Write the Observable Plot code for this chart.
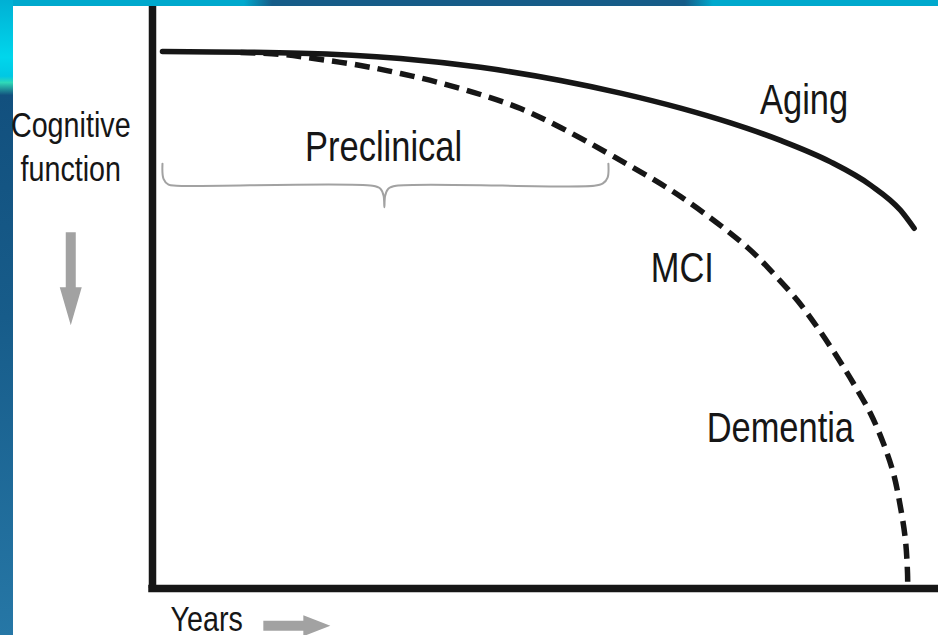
<!DOCTYPE html>
<html>
<head>
<meta charset="utf-8">
<script src="https://cdn.jsdelivr.net/npm/d3@7"></script>
<script src="https://cdn.jsdelivr.net/npm/@observablehq/plot@0.6"></script>
<style>
html, body { margin: 0; padding: 0; }
body { width: 938px; height: 635px; position: relative; overflow: hidden; background: #17598a; }
#topband { position: absolute; left: 0; top: 0; width: 938px; height: 6px;
  background: linear-gradient(to right, #00a9cd 0%, #00a9cd 26%, #165c88 29%, #165c88 73%, #00a9cd 76%, #00a9cd 100%); }
#leftband { position: absolute; left: 0; top: 0; width: 13px; height: 635px;
  background: linear-gradient(to bottom, #00b0d4 0%, #00d6ec 9%, #00c8e4 12%, #2fd8b8 13%, #12507e 15%, #175c8a 50%, #2677a6 100%); }
#chart { position: absolute; left: 13px; top: 6px; width: 925px; height: 629px; background: #fff; }
#chart svg { display: block; }
</style>
</head>
<body>
<div id="topband"></div>
<div id="leftband"></div>
<div id="chart"></div>
<script>
// Normal aging trajectory (years on x, cognitive function on y, arbitrary 0-100 units)
const agingYears = [1.27, 18.83, 31.55, 41.73, 51.91, 59.54, 67.18, 73.54, 79.9, 86.26, 91.35, 95.17, 96.9];
const agingFunction = [92.27, 91.98, 91.07, 89.55, 87.29, 85.12, 82.54, 80.0, 76.99, 73.3, 69.31, 64.98, 61.9];

// Pathological trajectory: preclinical -> MCI -> dementia
const adYears = [11.2, 16.67, 20.1, 26.46, 31.55, 36.64, 41.73, 46.82, 51.91, 58.65, 67.18, 75.7, 79.0, 82.06, 84.6, 87.15, 89.19, 91.35, 93.0, 94.27, 95.17, 95.8, 96.06, 96.08];
const adFunction = [92.1, 91.75, 91.15, 89.86, 88.49, 86.86, 84.88, 82.47, 79.21, 74.23, 67.35, 58.59, 54.12, 49.48, 44.85, 39.69, 35.22, 30.07, 24.91, 19.76, 13.92, 8.25, 2.58, 0];

// Preclinical bracket outline
const bracketX = [1.27, 1.40, 2.04, 3.05, 28.0, 29.0, 29.4, 29.5, 29.6, 30.0, 31.0, 56.2, 57.3, 57.9, 58.0];
const bracketY = [73.0, 70.4, 69.4, 69.2, 69.2, 68.7, 67.5, 65.5, 67.5, 68.7, 69.2, 69.2, 69.6, 70.6, 73.0];

// Stage labels
const labelText = ["Preclinical", "Aging", "MCI", "Dementia"];
const labelX = [29.4, 77.3, 63.4, 70.5];
const labelY = [73.5, 81.6, 52.6, 25.1];
const labelAnchor = ["middle", "start", "start", "start"];

// Axis titles
const yTitle = "Cognitive\nfunction";
const yTitleAt = [-10.4, 70.1];
const xTitle = "Years";
const xTitleAt = [2.3, -7.3];

// Direction arrows (start point in data units)
const downArrowAt = [-10.4, 61.2];
const rightArrowAt = [14.1, -6.4];

const aging = agingYears.map((x, i) => ({x, y: agingFunction[i]}));
const ad = adYears.map((x, i) => ({x, y: adFunction[i]}));
const bracket = bracketX.map((x, i) => ({x, y: bracketY[i]}));
const labels = labelText.map((text, i) => ({text, x: labelX[i], y: labelY[i], anchor: labelAnchor[i]}));

const FONT = "'Liberation Sans', Arial, Helvetica, sans-serif";
const GRAY = "#a2a2a2";
const INK = "#161616";
const CONDENSE = 0.82;

function blockArrow(headLen, shaftHalf, headHalf) {
  return {
    draw(context, l) {
      const b = -(l - headLen);
      context.moveTo(-shaftHalf, 0);
      context.lineTo(-shaftHalf, b);
      context.lineTo(-headHalf, b);
      context.lineTo(0, -l);
      context.lineTo(headHalf, b);
      context.lineTo(shaftHalf, b);
      context.lineTo(shaftHalf, 0);
      context.closePath();
    }
  };
}

const chart = Plot.plot({
  width: 925,
  height: 629,
  marginLeft: 139,
  marginRight: 0,
  marginTop: 0,
  marginBottom: 47,
  x: {domain: [0, 100], axis: null},
  y: {domain: [0, 100], axis: null},
  style: {background: "#fff", overflow: "visible", fontFamily: FONT},
  marks: [
    // bracket
    Plot.line(bracket, {x: "x", y: "y", stroke: GRAY, strokeWidth: 2, curve: "catmull-rom"}),
    // curves
    Plot.line(ad, {x: "x", y: "y", stroke: INK, strokeWidth: 5.5, strokeDasharray: "15,8", curve: "catmull-rom", strokeLinecap: "butt"}),
    Plot.line(aging, {x: "x", y: "y", stroke: INK, strokeWidth: 5.5, curve: "monotone-x", strokeLinecap: "round"}),
    // axes
    Plot.ruleY([0], {stroke: INK, strokeWidth: 7.5, strokeLinecap: "square"}),
    Plot.ruleX([0], {stroke: INK, strokeWidth: 7.5}),
    // stage labels
    Plot.text(labels.filter(d => d.anchor === "middle"), {x: "x", y: "y", text: "text", textAnchor: "middle", lineAnchor: "bottom", fontSize: 42, fill: INK}),
    Plot.text(labels.filter(d => d.anchor === "start"), {x: "x", y: "y", text: "text", textAnchor: "start", lineAnchor: "bottom", fontSize: 42, fill: INK}),
    // axis titles
    Plot.text([yTitle], {x: yTitleAt[0], y: yTitleAt[1], text: d => d, textAnchor: "middle", lineAnchor: "bottom", lineHeight: 1.23, fontSize: 35, fill: INK}),
    Plot.text([xTitle], {x: xTitleAt[0], y: xTitleAt[1], text: d => d, textAnchor: "start", lineAnchor: "bottom", fontSize: 35, fill: INK}),
    // arrows
    Plot.vector([downArrowAt], {x: d => d[0], y: d => d[1], length: 93, rotate: 180, anchor: "start", shape: blockArrow(38, 5, 11), fill: GRAY, stroke: "none"}),
    Plot.vector([rightArrowAt], {x: d => d[0], y: d => d[1], length: 67, rotate: 90, anchor: "start", shape: blockArrow(27, 5, 10.5), fill: GRAY, stroke: "none"})
  ]
});
document.getElementById("chart").appendChild(chart);

// Condense the lettering horizontally, like the narrow face of the original figure
chart.querySelectorAll("text").forEach(t => {
  const spans = t.querySelectorAll("tspan");
  const targets = spans.length ? Array.from(spans) : [t];
  targets.forEach(el => {
    const len = el.getComputedTextLength();
    if (len > 0) {
      el.setAttribute("textLength", (len * CONDENSE).toFixed(1));
      el.setAttribute("lengthAdjust", "spacingAndGlyphs");
    }
  });
});
</script>
</body>
</html>
